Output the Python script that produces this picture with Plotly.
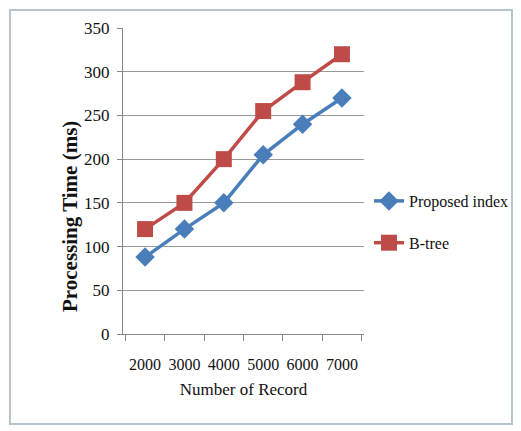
import plotly.graph_objects as go

records = ["2000", "3000", "4000", "5000", "6000", "7000"]
proposed_index = [88, 120, 150, 205, 240, 270]
b_tree = [120, 150, 200, 255, 288, 320]

# page body has an 8px margin, so the figure is offset by that much
OFF = 8
W, H = 521 - OFF, 431 - OFF
L, T = 123 - OFF, 28 - OFF
R, B = W - (364 - OFF), H - (334 - OFF)
pw, ph = W - L - R, H - T - B


def px_x(x):
    return (x - OFF - L) / pw


def px_y(y):
    return (H - B - (y - OFF)) / ph


fig = go.Figure()
fig.add_trace(go.Scatter(
    x=records, y=proposed_index, name="Proposed index", mode="lines+markers",
    legendgroup="a",
    line={"color": "#4a7ebb", "width": 3.5},
    marker={"symbol": "diamond", "size": 15, "color": "#4a7ebb"},
))
fig.add_trace(go.Scatter(
    x=records, y=b_tree, name="B-tree", mode="lines+markers",
    legendgroup="b",
    line={"color": "#be4b48", "width": 3.5},
    marker={"symbol": "square", "size": 16, "color": "#be4b48"},
))

fig.add_shape(type="rect", xref="paper", yref="paper",
              x0=px_x(10), x1=px_x(512), y0=px_y(424), y1=px_y(10),
              line={"color": "#b8c4cc", "width": 2}, layer="below")

fig.add_annotation(
    text="<b>Processing Time (ms)</b>", textangle=-90,
    xref="paper", yref="paper", x=px_x(70), y=px_y(217),
    xanchor="center", yanchor="middle",
    showarrow=False, font={"size": 21},
)

fig.update_layout(
    width=W, height=H,
    margin={"l": L, "r": R, "t": T, "b": B, "autoexpand": False},
    paper_bgcolor="white", plot_bgcolor="white",
    font={"family": "Liberation Serif", "color": "#111111", "size": 16},
    showlegend=True,
    legend={"x": px_x(369), "y": px_y(184), "xanchor": "left", "yanchor": "top",
            "font": {"size": 16}, "tracegroupgap": 18, "bgcolor": "rgba(0,0,0,0)"},
    xaxis={
        "type": "category", "tickson": "boundaries", "ticks": "outside",
        "ticklen": 6, "tickcolor": "#888888", "showline": True,
        "linecolor": "#888888", "showgrid": False, "tickangle": 0,
        "automargin": False,
        "tickfont": {"size": 16}, "ticklabelstandoff": 16,
        "title": {"text": "Number of Record", "font": {"size": 17}, "standoff": 10},
    },
    yaxis={
        "range": [0, 350], "dtick": 50, "ticks": "outside", "ticklen": 5,
        "tickcolor": "#888888", "showline": True, "linecolor": "#888888",
        "gridcolor": "#999999", "gridwidth": 1, "zeroline": False,
        "automargin": False,
        "tickfont": {"size": 17}, "ticklabelstandoff": 4,
    },
)

fig.write_html("out.html")
